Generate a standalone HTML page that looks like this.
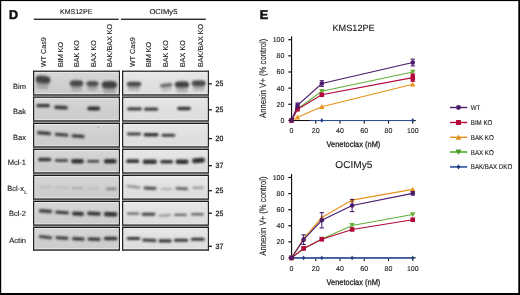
<!DOCTYPE html>
<html><head><meta charset="utf-8">
<style>
html,body{margin:0;padding:0;background:#fff;}
body{width:520px;height:295px;overflow:hidden;font-family:"Liberation Sans", sans-serif;}
svg{display:block;will-change:transform;text-rendering:geometricPrecision;}
text{font-family:"Liberation Sans", sans-serif;stroke:#1a1a1a;stroke-width:0.12px;paint-order:stroke;}
</style></head><body>
<svg width="520" height="295" viewBox="0 0 520 295">
<defs>
<filter id="b1" x="-30%" y="-200%" width="160%" height="500%"><feGaussianBlur stdDeviation="0.85"/></filter>
<filter id="b3" x="-30%" y="-200%" width="160%" height="500%"><feGaussianBlur stdDeviation="0.95"/></filter>
<filter id="b2" x="-30%" y="-200%" width="160%" height="500%"><feGaussianBlur stdDeviation="1.1"/></filter>
<linearGradient id="gL" x1="0" y1="0" x2="0" y2="1">
<stop offset="0" stop-color="#d7d7d7"/><stop offset="0.5" stop-color="#cfcfcf"/><stop offset="1" stop-color="#cccccc"/></linearGradient>
<linearGradient id="gR" x1="0" y1="0" x2="0" y2="1">
<stop offset="0" stop-color="#e8e8e8"/><stop offset="0.5" stop-color="#e0e0e0"/><stop offset="1" stop-color="#dddddd"/></linearGradient>
</defs>
<rect x="0" y="0" width="520" height="295" fill="#fff"/>

<text x="8.9" y="18.7" font-size="12.6" font-weight="bold" fill="#111" style="stroke:#111;stroke-width:0.55px">D</text>
<rect x="33.8" y="18.6" width="84.9" height="1.4" fill="#2a2a2a"/>
<rect x="120.9" y="18.6" width="84.9" height="1.4" fill="#2a2a2a"/>
<text x="76.2" y="14" font-size="7" text-anchor="middle" fill="#1a1a1a">KMS12PE</text>
<text x="149.4" y="14" font-size="7.1" textLength="28" lengthAdjust="spacingAndGlyphs" fill="#1a1a1a">OCIMy5</text>
<text transform="translate(46.1,67) rotate(-90)" font-size="7.2" fill="#1a1a1a">WT Cas9</text>
<text transform="translate(62.9,67) rotate(-90)" font-size="7.2" fill="#1a1a1a">BIM KO</text>
<text transform="translate(79.3,67) rotate(-90)" font-size="7.2" fill="#1a1a1a">BAK KO</text>
<text transform="translate(96.0,67) rotate(-90)" font-size="7.2" fill="#1a1a1a">BAX KO</text>
<text transform="translate(112.3,67) rotate(-90)" font-size="7.2" fill="#1a1a1a">BAK/BAX KO</text>
<text transform="translate(135.0,67) rotate(-90)" font-size="7.2" fill="#1a1a1a">WT Cas9</text>
<text transform="translate(151.2,67) rotate(-90)" font-size="7.2" fill="#1a1a1a">BIM KO</text>
<text transform="translate(167.5,67) rotate(-90)" font-size="7.2" fill="#1a1a1a">BAK KO</text>
<text transform="translate(185.0,67) rotate(-90)" font-size="7.2" fill="#1a1a1a">BAX KO</text>
<text transform="translate(202.9,67) rotate(-90)" font-size="7.2" fill="#1a1a1a">BAK/BAX KO</text>
<rect x="33.0" y="70.7" width="87.00" height="180.1" fill="#9a9a9a"/>
<rect x="122.0" y="70.7" width="87.00" height="180.1" fill="#9a9a9a"/>
<text x="26" y="88.6" font-size="7.5" text-anchor="end" fill="#1a1a1a">Bim</text>
<rect x="33.0" y="70.7" width="87.00" height="25.00" fill="url(#gL)"/>
<rect x="34.7" y="72.3" width="83.80" height="21.40" fill="none" stroke="#ededed" stroke-width="0.9" opacity="0.85"/>
<rect x="122.0" y="70.7" width="87.00" height="25.00" fill="url(#gR)"/>
<rect x="123.7" y="72.3" width="83.80" height="21.40" fill="none" stroke="#ededed" stroke-width="0.9" opacity="0.85"/>
<g transform="rotate(6 43.00 79.50)">
<ellipse cx="43.00" cy="79.90" rx="7.60" ry="4.80" fill="#333" opacity="0.27" filter="url(#b2)"/>
<rect x="35.95" y="76.26" width="14.10" height="6.48" rx="3.00" fill="#2a2a2a" opacity="0.81" filter="url(#b3)"/>
<rect x="36.95" y="79.50" width="12.10" height="9.48" rx="2" fill="#444" opacity="0.27" filter="url(#b2)"/>
</g>
<g>
<ellipse cx="76.50" cy="83.60" rx="6.90" ry="4.00" fill="#333" opacity="0.26" filter="url(#b2)"/>
<rect x="70.15" y="80.68" width="12.70" height="5.04" rx="2.52" fill="#2a2a2a" opacity="0.77" filter="url(#b3)"/>
<rect x="71.15" y="83.20" width="10.70" height="8.04" rx="2" fill="#444" opacity="0.26" filter="url(#b2)"/>
</g>
<g>
<ellipse cx="92.50" cy="84.00" rx="6.40" ry="3.60" fill="#333" opacity="0.24" filter="url(#b2)"/>
<rect x="86.65" y="81.44" width="11.70" height="4.32" rx="2.16" fill="#2a2a2a" opacity="0.72" filter="url(#b3)"/>
<rect x="87.65" y="83.60" width="9.70" height="7.32" rx="2" fill="#444" opacity="0.24" filter="url(#b2)"/>
</g>
<g>
<ellipse cx="109.40" cy="85.00" rx="7.80" ry="4.60" fill="#333" opacity="0.28" filter="url(#b2)"/>
<rect x="102.15" y="81.54" width="14.50" height="6.12" rx="3.00" fill="#2a2a2a" opacity="0.83" filter="url(#b3)"/>
<rect x="103.15" y="84.60" width="12.50" height="9.12" rx="2" fill="#444" opacity="0.28" filter="url(#b2)"/>
</g>
<g>
<ellipse cx="134.00" cy="84.50" rx="7.50" ry="3.40" fill="#333" opacity="0.26" filter="url(#b2)"/>
<rect x="127.05" y="82.12" width="13.90" height="3.96" rx="1.98" fill="#2a2a2a" opacity="0.77" filter="url(#b3)"/>
<rect x="128.05" y="84.10" width="11.90" height="6.96" rx="2" fill="#444" opacity="0.26" filter="url(#b2)"/>
</g>
<g transform="rotate(-7 166.20 85.20)">
<rect x="160.15" y="83.55" width="12.10" height="3.30" rx="1.65" fill="#333" opacity="0.71" filter="url(#b1)"/>
<rect x="161.15" y="85.20" width="10.10" height="6.30" rx="2" fill="#444" opacity="0.19" filter="url(#b2)"/>
</g>
<g>
<ellipse cx="182.00" cy="84.80" rx="7.40" ry="4.20" fill="#333" opacity="0.27" filter="url(#b2)"/>
<rect x="175.15" y="81.70" width="13.70" height="5.40" rx="2.70" fill="#2a2a2a" opacity="0.81" filter="url(#b3)"/>
<rect x="176.15" y="84.40" width="11.70" height="8.40" rx="2" fill="#444" opacity="0.27" filter="url(#b2)"/>
</g>
<g>
<ellipse cx="198.70" cy="83.60" rx="7.30" ry="3.90" fill="#333" opacity="0.26" filter="url(#b2)"/>
<rect x="191.95" y="80.77" width="13.50" height="4.86" rx="2.43" fill="#2a2a2a" opacity="0.77" filter="url(#b3)"/>
<rect x="192.95" y="83.20" width="11.50" height="7.86" rx="2" fill="#444" opacity="0.26" filter="url(#b2)"/>
</g>
<rect x="33.0" y="70.7" width="87.00" height="1.1" fill="#1e1e1e"/>
<rect x="33.0" y="70.7" width="1.25" height="25.00" fill="#222"/>
<rect x="118.80" y="70.7" width="1.2" height="25.00" fill="#222"/>
<rect x="33.0" y="94.20" width="87.00" height="1.5" fill="#3e3e3e"/>
<rect x="122.0" y="70.7" width="87.00" height="1.1" fill="#1e1e1e"/>
<rect x="122.0" y="70.7" width="1.25" height="25.00" fill="#222"/>
<rect x="207.80" y="70.7" width="1.2" height="25.00" fill="#222"/>
<rect x="122.0" y="94.20" width="87.00" height="1.5" fill="#3e3e3e"/>
<rect x="209" y="83.15" width="2.9" height="1.3" fill="#1a1a1a"/>
<text x="215.6" y="86.3" font-size="7.7" fill="#1a1a1a" style="stroke-width:0.3px" transform="translate(215.6,0) scale(0.9,1) translate(-215.6,0)">25</text>
<text x="26" y="114" font-size="7.5" text-anchor="end" fill="#1a1a1a">Bak</text>
<rect x="33.0" y="96.7" width="87.00" height="25.00" fill="url(#gL)"/>
<rect x="34.7" y="98.3" width="83.80" height="21.40" fill="none" stroke="#ededed" stroke-width="0.9" opacity="0.85"/>
<rect x="122.0" y="96.7" width="87.00" height="25.00" fill="url(#gR)"/>
<rect x="123.7" y="98.3" width="83.80" height="21.40" fill="none" stroke="#ededed" stroke-width="0.9" opacity="0.85"/>
<g>
<rect x="36.35" y="104.05" width="13.70" height="3.30" rx="1.65" fill="#333" opacity="0.98" filter="url(#b1)"/>
</g>
<g transform="rotate(3 61.00 107.50)">
<rect x="54.15" y="105.85" width="13.70" height="3.30" rx="1.65" fill="#333" opacity="0.98" filter="url(#b1)"/>
</g>
<g>
<rect x="87.25" y="106.52" width="12.90" height="3.96" rx="1.98" fill="#333" opacity="1.00" filter="url(#b1)"/>
</g>
<g>
<rect x="127.05" y="107.15" width="14.90" height="3.30" rx="1.65" fill="#333" opacity="0.92" filter="url(#b1)"/>
</g>
<g>
<rect x="144.05" y="107.55" width="14.10" height="3.30" rx="1.65" fill="#333" opacity="0.92" filter="url(#b1)"/>
</g>
<g>
<rect x="177.15" y="106.74" width="13.70" height="3.52" rx="1.76" fill="#333" opacity="0.98" filter="url(#b1)"/>
</g>
<rect x="33.0" y="96.7" width="87.00" height="1.1" fill="#1e1e1e"/>
<rect x="33.0" y="96.7" width="1.25" height="25.00" fill="#222"/>
<rect x="118.80" y="96.7" width="1.2" height="25.00" fill="#222"/>
<rect x="33.0" y="120.20" width="87.00" height="1.5" fill="#3e3e3e"/>
<rect x="122.0" y="96.7" width="87.00" height="1.1" fill="#1e1e1e"/>
<rect x="122.0" y="96.7" width="1.25" height="25.00" fill="#222"/>
<rect x="207.80" y="96.7" width="1.2" height="25.00" fill="#222"/>
<rect x="122.0" y="120.20" width="87.00" height="1.5" fill="#3e3e3e"/>
<rect x="209" y="109.15" width="2.9" height="1.3" fill="#1a1a1a"/>
<text x="215.6" y="112.3" font-size="7.7" fill="#1a1a1a" style="stroke-width:0.3px" transform="translate(215.6,0) scale(0.9,1) translate(-215.6,0)">25</text>
<text x="26" y="139.5" font-size="7.5" text-anchor="end" fill="#1a1a1a">Bax</text>
<rect x="33.0" y="122.9" width="87.00" height="24.80" fill="url(#gL)"/>
<rect x="34.7" y="124.5" width="83.80" height="21.20" fill="none" stroke="#ededed" stroke-width="0.9" opacity="0.85"/>
<rect x="122.0" y="122.9" width="87.00" height="24.80" fill="url(#gR)"/>
<rect x="123.7" y="124.5" width="83.80" height="21.20" fill="none" stroke="#ededed" stroke-width="0.9" opacity="0.85"/>
<g transform="rotate(5 44.10 133.10)">
<rect x="36.95" y="131.56" width="14.30" height="3.08" rx="1.54" fill="#333" opacity="0.98" filter="url(#b1)"/>
</g>
<g transform="rotate(5 61.60 134.80)">
<rect x="54.65" y="133.26" width="13.90" height="3.08" rx="1.54" fill="#333" opacity="0.98" filter="url(#b1)"/>
</g>
<g transform="rotate(4 78.10 136.20)">
<rect x="71.55" y="134.55" width="13.10" height="3.30" rx="1.65" fill="#333" opacity="0.98" filter="url(#b1)"/>
</g>
<g>
<rect x="126.85" y="132.57" width="14.10" height="2.86" rx="1.43" fill="#333" opacity="0.92" filter="url(#b1)"/>
</g>
<g>
<rect x="143.55" y="133.04" width="15.10" height="3.52" rx="1.76" fill="#333" opacity="0.98" filter="url(#b1)"/>
</g>
<g>
<rect x="161.55" y="133.66" width="13.70" height="3.08" rx="1.54" fill="#333" opacity="0.92" filter="url(#b1)"/>
</g>
<rect x="33.0" y="122.9" width="87.00" height="1.1" fill="#1e1e1e"/>
<rect x="33.0" y="122.9" width="1.25" height="24.80" fill="#222"/>
<rect x="118.80" y="122.9" width="1.2" height="24.80" fill="#222"/>
<rect x="33.0" y="146.20" width="87.00" height="1.5" fill="#3e3e3e"/>
<rect x="122.0" y="122.9" width="87.00" height="1.1" fill="#1e1e1e"/>
<rect x="122.0" y="122.9" width="1.25" height="24.80" fill="#222"/>
<rect x="207.80" y="122.9" width="1.2" height="24.80" fill="#222"/>
<rect x="122.0" y="146.20" width="87.00" height="1.5" fill="#3e3e3e"/>
<rect x="209" y="137.95" width="2.9" height="1.3" fill="#1a1a1a"/>
<text x="215.6" y="141.1" font-size="7.7" fill="#1a1a1a" style="stroke-width:0.3px" transform="translate(215.6,0) scale(0.9,1) translate(-215.6,0)">20</text>
<text x="26" y="165.3" font-size="7.5" text-anchor="end" fill="#1a1a1a">Mcl-1</text>
<rect x="33.0" y="148.9" width="87.00" height="24.80" fill="url(#gL)"/>
<rect x="34.7" y="150.5" width="83.80" height="21.20" fill="none" stroke="#ededed" stroke-width="0.9" opacity="0.85"/>
<rect x="122.0" y="148.9" width="87.00" height="24.80" fill="url(#gR)"/>
<rect x="123.7" y="150.5" width="83.80" height="21.20" fill="none" stroke="#ededed" stroke-width="0.9" opacity="0.85"/>
<g>
<rect x="38.15" y="157.63" width="13.10" height="3.74" rx="1.87" fill="#333" opacity="0.98" filter="url(#b1)"/>
</g>
<g>
<rect x="54.95" y="159.18" width="13.10" height="2.64" rx="1.32" fill="#333" opacity="0.98" filter="url(#b1)"/>
</g>
<g>
<rect x="71.15" y="159.00" width="12.70" height="4.40" rx="2.20" fill="#333" opacity="1.00" filter="url(#b1)"/>
</g>
<g>
<rect x="87.15" y="159.99" width="12.10" height="2.42" rx="1.21" fill="#333" opacity="0.94" filter="url(#b1)"/>
</g>
<g>
<rect x="103.95" y="159.00" width="12.70" height="4.40" rx="2.20" fill="#333" opacity="1.00" filter="url(#b1)"/>
</g>
<g>
<rect x="126.15" y="159.33" width="13.10" height="3.74" rx="1.87" fill="#333" opacity="0.98" filter="url(#b1)"/>
</g>
<g>
<rect x="142.65" y="159.50" width="14.30" height="4.40" rx="2.20" fill="#333" opacity="0.98" filter="url(#b1)"/>
</g>
<g>
<rect x="160.25" y="159.94" width="12.90" height="3.52" rx="1.76" fill="#333" opacity="0.98" filter="url(#b1)"/>
</g>
<g>
<rect x="175.55" y="159.50" width="13.10" height="4.40" rx="2.20" fill="#333" opacity="1.00" filter="url(#b1)"/>
</g>
<g transform="rotate(-5 198.50 160.50)">
<rect x="191.95" y="158.08" width="13.10" height="4.84" rx="2.42" fill="#333" opacity="1.00" filter="url(#b1)"/>
</g>
<rect x="33.0" y="148.9" width="87.00" height="1.1" fill="#1e1e1e"/>
<rect x="33.0" y="148.9" width="1.25" height="24.80" fill="#222"/>
<rect x="118.80" y="148.9" width="1.2" height="24.80" fill="#222"/>
<rect x="33.0" y="172.20" width="87.00" height="1.5" fill="#3e3e3e"/>
<rect x="122.0" y="148.9" width="87.00" height="1.1" fill="#1e1e1e"/>
<rect x="122.0" y="148.9" width="1.25" height="24.80" fill="#222"/>
<rect x="207.80" y="148.9" width="1.2" height="24.80" fill="#222"/>
<rect x="122.0" y="172.20" width="87.00" height="1.5" fill="#3e3e3e"/>
<rect x="209" y="165.05" width="2.9" height="1.3" fill="#1a1a1a"/>
<text x="215.6" y="168.2" font-size="7.7" fill="#1a1a1a" style="stroke-width:0.3px" transform="translate(215.6,0) scale(0.9,1) translate(-215.6,0)">37</text>
<text x="24" y="190.8" font-size="7.5" text-anchor="end" fill="#1a1a1a">Bcl-x</text>
<text x="24.2" y="193.60000000000002" font-size="5" fill="#1a1a1a">L</text>
<rect x="33.0" y="174.9" width="87.00" height="25.00" fill="url(#gL)"/>
<rect x="34.7" y="176.5" width="83.80" height="21.40" fill="none" stroke="#ededed" stroke-width="0.9" opacity="0.85"/>
<rect x="122.0" y="174.9" width="87.00" height="25.00" fill="url(#gR)"/>
<rect x="123.7" y="176.5" width="83.80" height="21.40" fill="none" stroke="#ededed" stroke-width="0.9" opacity="0.85"/>
<g>
<rect x="38.65" y="185.92" width="12.70" height="1.76" rx="0.88" fill="#333" opacity="0.14" filter="url(#b1)"/>
</g>
<g>
<rect x="55.65" y="186.62" width="12.70" height="1.76" rx="0.88" fill="#333" opacity="0.14" filter="url(#b1)"/>
</g>
<g>
<rect x="71.65" y="187.32" width="11.70" height="1.76" rx="0.88" fill="#333" opacity="0.29" filter="url(#b1)"/>
</g>
<g>
<rect x="87.15" y="187.62" width="11.70" height="1.76" rx="0.88" fill="#333" opacity="0.14" filter="url(#b1)"/>
</g>
<g>
<rect x="106.15" y="187.80" width="10.50" height="2.20" rx="1.10" fill="#333" opacity="0.52" filter="url(#b1)"/>
</g>
<g transform="rotate(7 133.50 186.80)">
<rect x="126.75" y="185.81" width="13.50" height="1.98" rx="0.99" fill="#333" opacity="0.57" filter="url(#b1)"/>
</g>
<g transform="rotate(3 150.00 188.20)">
<rect x="143.55" y="186.77" width="12.90" height="2.86" rx="1.43" fill="#333" opacity="0.86" filter="url(#b1)"/>
</g>
<g>
<rect x="160.85" y="188.02" width="10.90" height="1.76" rx="0.88" fill="#333" opacity="0.34" filter="url(#b1)"/>
</g>
<g transform="rotate(3 181.80 188.60)">
<rect x="175.45" y="187.28" width="12.70" height="2.64" rx="1.32" fill="#333" opacity="0.75" filter="url(#b1)"/>
</g>
<g>
<rect x="192.45" y="186.71" width="11.30" height="1.98" rx="0.99" fill="#333" opacity="0.46" filter="url(#b1)"/>
</g>
<rect x="33.0" y="174.9" width="87.00" height="1.1" fill="#1e1e1e"/>
<rect x="33.0" y="174.9" width="1.25" height="25.00" fill="#222"/>
<rect x="118.80" y="174.9" width="1.2" height="25.00" fill="#222"/>
<rect x="33.0" y="198.40" width="87.00" height="1.5" fill="#3e3e3e"/>
<rect x="122.0" y="174.9" width="87.00" height="1.1" fill="#1e1e1e"/>
<rect x="122.0" y="174.9" width="1.25" height="25.00" fill="#222"/>
<rect x="207.80" y="174.9" width="1.2" height="25.00" fill="#222"/>
<rect x="122.0" y="198.40" width="87.00" height="1.5" fill="#3e3e3e"/>
<rect x="209" y="190.05" width="2.9" height="1.3" fill="#1a1a1a"/>
<text x="215.6" y="193.2" font-size="7.7" fill="#1a1a1a" style="stroke-width:0.3px" transform="translate(215.6,0) scale(0.9,1) translate(-215.6,0)">25</text>
<text x="26" y="215.8" font-size="7.5" text-anchor="end" fill="#1a1a1a">Bcl-2</text>
<rect x="33.0" y="200.9" width="87.00" height="25.00" fill="url(#gL)"/>
<rect x="34.7" y="202.5" width="83.80" height="21.40" fill="none" stroke="#ededed" stroke-width="0.9" opacity="0.85"/>
<rect x="122.0" y="200.9" width="87.00" height="25.00" fill="url(#gR)"/>
<rect x="123.7" y="202.5" width="83.80" height="21.40" fill="none" stroke="#ededed" stroke-width="0.9" opacity="0.85"/>
<g transform="rotate(4 45.50 211.10)">
<rect x="38.75" y="209.56" width="13.50" height="3.08" rx="1.54" fill="#333" opacity="0.98" filter="url(#b1)"/>
</g>
<g transform="rotate(4 62.10 212.50)">
<rect x="55.15" y="210.96" width="13.90" height="3.08" rx="1.54" fill="#333" opacity="0.98" filter="url(#b1)"/>
</g>
<g transform="rotate(3 78.00 213.70)">
<rect x="71.95" y="211.72" width="12.10" height="3.96" rx="1.98" fill="#333" opacity="1.00" filter="url(#b1)"/>
</g>
<g transform="rotate(3 94.00 213.70)">
<rect x="87.15" y="211.83" width="13.70" height="3.74" rx="1.87" fill="#333" opacity="1.00" filter="url(#b1)"/>
</g>
<g transform="rotate(2 110.70 214.20)">
<rect x="103.95" y="212.00" width="13.50" height="4.40" rx="2.20" fill="#333" opacity="1.00" filter="url(#b1)"/>
</g>
<g>
<rect x="126.95" y="212.60" width="12.30" height="2.20" rx="1.10" fill="#333" opacity="0.71" filter="url(#b1)"/>
</g>
<g>
<rect x="141.65" y="212.77" width="13.70" height="2.86" rx="1.43" fill="#333" opacity="0.90" filter="url(#b1)"/>
</g>
<g transform="rotate(-3 164.70 215.40)">
<rect x="158.55" y="214.41" width="12.30" height="1.98" rx="0.99" fill="#333" opacity="0.48" filter="url(#b1)"/>
</g>
<g>
<rect x="174.15" y="213.69" width="12.70" height="2.42" rx="1.21" fill="#333" opacity="0.71" filter="url(#b1)"/>
</g>
<g>
<rect x="191.05" y="212.99" width="12.70" height="2.42" rx="1.21" fill="#333" opacity="0.71" filter="url(#b1)"/>
</g>
<rect x="33.0" y="200.9" width="87.00" height="1.1" fill="#1e1e1e"/>
<rect x="33.0" y="200.9" width="1.25" height="25.00" fill="#222"/>
<rect x="118.80" y="200.9" width="1.2" height="25.00" fill="#222"/>
<rect x="33.0" y="224.40" width="87.00" height="1.5" fill="#3e3e3e"/>
<rect x="122.0" y="200.9" width="87.00" height="1.1" fill="#1e1e1e"/>
<rect x="122.0" y="200.9" width="1.25" height="25.00" fill="#222"/>
<rect x="207.80" y="200.9" width="1.2" height="25.00" fill="#222"/>
<rect x="122.0" y="224.40" width="87.00" height="1.5" fill="#3e3e3e"/>
<rect x="209" y="212.55" width="2.9" height="1.3" fill="#1a1a1a"/>
<text x="215.6" y="215.7" font-size="7.7" fill="#1a1a1a" style="stroke-width:0.3px" transform="translate(215.6,0) scale(0.9,1) translate(-215.6,0)">25</text>
<text x="26" y="242.8" font-size="7.5" text-anchor="end" fill="#1a1a1a">Actin</text>
<rect x="33.0" y="226.9" width="87.00" height="23.90" fill="url(#gL)"/>
<rect x="34.7" y="228.5" width="83.80" height="20.30" fill="none" stroke="#ededed" stroke-width="0.9" opacity="0.85"/>
<rect x="122.0" y="226.9" width="87.00" height="23.90" fill="url(#gR)"/>
<rect x="123.7" y="228.5" width="83.80" height="20.30" fill="none" stroke="#ededed" stroke-width="0.9" opacity="0.85"/>
<g transform="rotate(7 45.50 237.10)">
<rect x="38.75" y="235.67" width="13.50" height="2.86" rx="1.43" fill="#333" opacity="0.98" filter="url(#b1)"/>
</g>
<g transform="rotate(4 62.00 238.00)">
<rect x="55.45" y="236.57" width="13.10" height="2.86" rx="1.43" fill="#333" opacity="0.98" filter="url(#b1)"/>
</g>
<g transform="rotate(3 78.30 238.80)">
<rect x="71.95" y="237.15" width="12.70" height="3.30" rx="1.65" fill="#333" opacity="0.98" filter="url(#b1)"/>
</g>
<g transform="rotate(2 94.10 239.20)">
<rect x="87.55" y="237.55" width="13.10" height="3.30" rx="1.65" fill="#333" opacity="0.98" filter="url(#b1)"/>
</g>
<g>
<rect x="103.95" y="236.85" width="13.50" height="3.30" rx="1.65" fill="#333" opacity="0.98" filter="url(#b1)"/>
</g>
<g>
<rect x="126.75" y="237.07" width="13.50" height="2.86" rx="1.43" fill="#333" opacity="0.98" filter="url(#b1)"/>
</g>
<g transform="rotate(3 149.40 240.20)">
<rect x="142.25" y="238.66" width="14.30" height="3.08" rx="1.54" fill="#333" opacity="0.98" filter="url(#b1)"/>
</g>
<g>
<rect x="158.55" y="239.36" width="13.10" height="3.08" rx="1.54" fill="#333" opacity="0.98" filter="url(#b1)"/>
</g>
<g>
<rect x="173.85" y="238.66" width="14.30" height="3.08" rx="1.54" fill="#333" opacity="0.98" filter="url(#b1)"/>
</g>
<g>
<rect x="190.95" y="237.66" width="13.70" height="3.08" rx="1.54" fill="#333" opacity="0.98" filter="url(#b1)"/>
</g>
<rect x="33.0" y="226.9" width="87.00" height="1.1" fill="#1e1e1e"/>
<rect x="33.0" y="226.9" width="1.25" height="23.90" fill="#222"/>
<rect x="118.80" y="226.9" width="1.2" height="23.90" fill="#222"/>
<rect x="33.0" y="249.30" width="87.00" height="1.5" fill="#3e3e3e"/>
<rect x="122.0" y="226.9" width="87.00" height="1.1" fill="#1e1e1e"/>
<rect x="122.0" y="226.9" width="1.25" height="23.90" fill="#222"/>
<rect x="207.80" y="226.9" width="1.2" height="23.90" fill="#222"/>
<rect x="122.0" y="249.30" width="87.00" height="1.5" fill="#3e3e3e"/>
<rect x="209" y="245.65" width="2.9" height="1.3" fill="#1a1a1a"/>
<text x="215.6" y="248.8" font-size="7.7" fill="#1a1a1a" style="stroke-width:0.3px" transform="translate(215.6,0) scale(0.9,1) translate(-215.6,0)">37</text>
<ellipse cx="87.4" cy="71.6" rx="0.7" ry="0.5" fill="#333" opacity="0.8"/>
<ellipse cx="98.6" cy="127.2" rx="0.5" ry="0.5" fill="#555" opacity="0.6"/>
<text x="259.8" y="18.8" font-size="12.6" font-weight="bold" fill="#111" style="stroke:#111;stroke-width:0.55px">E</text>
<text x="353.6" y="30.6" font-size="9" text-anchor="middle" textLength="42.3" lengthAdjust="spacingAndGlyphs" fill="#1a1a1a">KMS12PE</text>
<text transform="translate(265.9,118.0) rotate(-90) scale(0.825,1)" font-size="9.4" fill="#1a1a1a">Annexin V+ (% control)</text>
<rect x="291.0" y="36.3" width="1.15" height="84.70" fill="#111"/>
<rect x="291.0" y="120.0" width="124.78" height="1.05" fill="#111"/>
<rect x="288.30" y="119.80" width="2.7" height="1.2" fill="#111"/>
<text x="284.40" y="122.90" font-size="7" text-anchor="end" fill="#1a1a1a">0</text>
<rect x="288.30" y="103.66" width="2.7" height="1.2" fill="#111"/>
<text x="284.40" y="106.76" font-size="7" text-anchor="end" fill="#1a1a1a">20</text>
<rect x="288.30" y="87.52" width="2.7" height="1.2" fill="#111"/>
<text x="284.40" y="90.62" font-size="7" text-anchor="end" fill="#1a1a1a">40</text>
<rect x="288.30" y="71.38" width="2.7" height="1.2" fill="#111"/>
<text x="284.40" y="74.48" font-size="7" text-anchor="end" fill="#1a1a1a">60</text>
<rect x="288.30" y="55.24" width="2.7" height="1.2" fill="#111"/>
<text x="284.40" y="58.34" font-size="7" text-anchor="end" fill="#1a1a1a">80</text>
<rect x="288.30" y="39.10" width="2.7" height="1.2" fill="#111"/>
<text x="284.40" y="42.20" font-size="7" text-anchor="end" fill="#1a1a1a">100</text>
<text x="291.50" y="133.3" font-size="7" text-anchor="middle" fill="#1a1a1a">0</text>
<rect x="315.20" y="121.00" width="1.1" height="2.6" fill="#111"/>
<text x="315.75" y="133.3" font-size="7" text-anchor="middle" fill="#1a1a1a">20</text>
<rect x="339.45" y="121.00" width="1.1" height="2.6" fill="#111"/>
<text x="340.00" y="133.3" font-size="7" text-anchor="middle" fill="#1a1a1a">40</text>
<rect x="363.70" y="121.00" width="1.1" height="2.6" fill="#111"/>
<text x="364.25" y="133.3" font-size="7" text-anchor="middle" fill="#1a1a1a">60</text>
<rect x="387.95" y="121.00" width="1.1" height="2.6" fill="#111"/>
<text x="388.50" y="133.3" font-size="7" text-anchor="middle" fill="#1a1a1a">80</text>
<rect x="412.20" y="121.00" width="1.1" height="2.6" fill="#111"/>
<text x="412.75" y="133.3" font-size="7" text-anchor="middle" fill="#1a1a1a">100</text>
<text x="326.5" y="147" font-size="8.2" fill="#1a1a1a" style="stroke-width:0.25px" transform="translate(326.5,0) scale(0.91,1) translate(-326.5,0)">Venetoclax (nM)</text>
<line x1="309.69" y1="120.50" x2="412.75" y2="120.50" stroke="#2f5192" stroke-width="1.2"/>
<path d="M321.81,118.00 L323.41,120.40 L321.81,122.80 L320.21,120.40Z" fill="#1f3f80"/>
<path d="M412.75,118.00 L414.35,120.40 L412.75,122.80 L411.15,120.40Z" fill="#1f3f80"/>
<polyline points="291.50,120.40 297.56,117.25 321.81,106.68 412.75,84.33" fill="none" stroke="#e6921a" stroke-width="1.1"/>
<path d="M291.50,117.70 L294.20,122.70 L288.80,122.70Z" fill="#e6921a"/>
<path d="M297.56,114.55 L300.26,119.55 L294.86,119.55Z" fill="#e6921a"/>
<path d="M321.81,103.98 L324.51,108.98 L319.11,108.98Z" fill="#e6921a"/>
<path d="M412.75,81.63 L415.45,86.62 L410.05,86.62Z" fill="#e6921a"/>
<polyline points="291.50,120.40 297.56,108.86 321.81,91.19 412.75,71.98" fill="none" stroke="#66b03a" stroke-width="1.1"/>
<path d="M288.80,118.11 L294.20,118.11 L291.50,123.10Z" fill="#66b03a"/>
<path d="M294.86,106.56 L300.26,106.56 L297.56,111.56Z" fill="#66b03a"/>
<path d="M319.11,88.89 L324.51,88.89 L321.81,93.89Z" fill="#66b03a"/>
<path d="M410.05,69.69 L415.45,69.69 L412.75,74.68Z" fill="#66b03a"/>
<polyline points="291.50,120.40 297.56,109.26 321.81,94.74 412.75,77.63" fill="none" stroke="#b3073a" stroke-width="1.1"/>
<rect x="289.20" y="118.10" width="4.60" height="4.60" fill="#b3073a"/>
<rect x="295.26" y="106.96" width="4.60" height="4.60" fill="#b3073a"/>
<rect x="319.51" y="92.44" width="4.60" height="4.60" fill="#b3073a"/>
<line x1="412.75" y1="74.00" x2="412.75" y2="81.26" stroke="#b3073a" stroke-width="3.5"/>
<line x1="410.35" y1="74.00" x2="415.15" y2="74.00" stroke="#b3073a" stroke-width="1.1"/>
<line x1="410.35" y1="81.26" x2="415.15" y2="81.26" stroke="#b3073a" stroke-width="1.1"/>
<rect x="410.45" y="75.33" width="4.60" height="4.60" fill="#b3073a"/>
<polyline points="291.50,120.40 297.56,105.39 321.81,83.52 412.75,62.54" fill="none" stroke="#4b1b6c" stroke-width="1.1"/>
<circle cx="291.50" cy="120.40" r="2.30" fill="#4b1b6c"/>
<line x1="297.56" y1="102.97" x2="297.56" y2="107.81" stroke="#4b1b6c" stroke-width="1.0"/>
<line x1="295.36" y1="102.97" x2="299.76" y2="102.97" stroke="#4b1b6c" stroke-width="1.1"/>
<line x1="295.36" y1="107.81" x2="299.76" y2="107.81" stroke="#4b1b6c" stroke-width="1.1"/>
<circle cx="297.56" cy="105.39" r="2.30" fill="#4b1b6c"/>
<line x1="321.81" y1="80.70" x2="321.81" y2="86.34" stroke="#4b1b6c" stroke-width="1.0"/>
<line x1="319.61" y1="80.70" x2="324.01" y2="80.70" stroke="#4b1b6c" stroke-width="1.1"/>
<line x1="319.61" y1="86.34" x2="324.01" y2="86.34" stroke="#4b1b6c" stroke-width="1.1"/>
<circle cx="321.81" cy="83.52" r="2.30" fill="#4b1b6c"/>
<line x1="412.75" y1="59.15" x2="412.75" y2="65.93" stroke="#4b1b6c" stroke-width="1.0"/>
<line x1="410.55" y1="59.15" x2="414.95" y2="59.15" stroke="#4b1b6c" stroke-width="1.1"/>
<line x1="410.55" y1="65.93" x2="414.95" y2="65.93" stroke="#4b1b6c" stroke-width="1.1"/>
<circle cx="412.75" cy="62.54" r="2.30" fill="#4b1b6c"/>
<text x="353.8" y="168.4" font-size="10" text-anchor="middle" textLength="37" lengthAdjust="spacingAndGlyphs" fill="#1a1a1a">OCIMy5</text>
<text transform="translate(265.9,255.7) rotate(-90) scale(0.825,1)" font-size="9.4" fill="#1a1a1a">Annexin V+ (% control)</text>
<rect x="291.0" y="173.9" width="1.15" height="84.40" fill="#111"/>
<rect x="291.0" y="257.3" width="124.78" height="1.05" fill="#111"/>
<rect x="288.30" y="257.30" width="2.7" height="1.2" fill="#111"/>
<text x="284.40" y="260.40" font-size="7" text-anchor="end" fill="#1a1a1a">0</text>
<rect x="288.30" y="241.22" width="2.7" height="1.2" fill="#111"/>
<text x="284.40" y="244.32" font-size="7" text-anchor="end" fill="#1a1a1a">20</text>
<rect x="288.30" y="225.14" width="2.7" height="1.2" fill="#111"/>
<text x="284.40" y="228.24" font-size="7" text-anchor="end" fill="#1a1a1a">40</text>
<rect x="288.30" y="209.06" width="2.7" height="1.2" fill="#111"/>
<text x="284.40" y="212.16" font-size="7" text-anchor="end" fill="#1a1a1a">60</text>
<rect x="288.30" y="192.98" width="2.7" height="1.2" fill="#111"/>
<text x="284.40" y="196.08" font-size="7" text-anchor="end" fill="#1a1a1a">80</text>
<rect x="288.30" y="176.90" width="2.7" height="1.2" fill="#111"/>
<text x="284.40" y="180.00" font-size="7" text-anchor="end" fill="#1a1a1a">100</text>
<text x="291.50" y="271" font-size="7" text-anchor="middle" fill="#1a1a1a">0</text>
<rect x="315.20" y="258.30" width="1.1" height="2.6" fill="#111"/>
<text x="315.75" y="271" font-size="7" text-anchor="middle" fill="#1a1a1a">20</text>
<rect x="339.45" y="258.30" width="1.1" height="2.6" fill="#111"/>
<text x="340.00" y="271" font-size="7" text-anchor="middle" fill="#1a1a1a">40</text>
<rect x="363.70" y="258.30" width="1.1" height="2.6" fill="#111"/>
<text x="364.25" y="271" font-size="7" text-anchor="middle" fill="#1a1a1a">60</text>
<rect x="387.95" y="258.30" width="1.1" height="2.6" fill="#111"/>
<text x="388.50" y="271" font-size="7" text-anchor="middle" fill="#1a1a1a">80</text>
<rect x="412.20" y="258.30" width="1.1" height="2.6" fill="#111"/>
<text x="412.75" y="271" font-size="7" text-anchor="middle" fill="#1a1a1a">100</text>
<text x="326.5" y="284.5" font-size="8.2" fill="#1a1a1a" style="stroke-width:0.25px" transform="translate(326.5,0) scale(0.91,1) translate(-326.5,0)">Venetoclax (nM)</text>
<line x1="291.50" y1="257.80" x2="412.75" y2="257.80" stroke="#3f5f9f" stroke-width="1.7"/>
<path d="M303.62,255.50 L305.23,257.90 L303.62,260.30 L302.02,257.90Z" fill="#1f3f80"/>
<path d="M321.81,255.50 L323.41,257.90 L321.81,260.30 L320.21,257.90Z" fill="#1f3f80"/>
<path d="M352.12,255.50 L353.73,257.90 L352.12,260.30 L350.52,257.90Z" fill="#1f3f80"/>
<path d="M412.75,255.50 L414.35,257.90 L412.75,260.30 L411.15,257.90Z" fill="#1f3f80"/>
<polyline points="291.50,257.90 303.62,238.60 321.81,217.54 352.12,200.09 412.75,189.40" fill="none" stroke="#e6921a" stroke-width="1.1"/>
<path d="M291.50,255.20 L294.20,260.19 L288.80,260.19Z" fill="#e6921a"/>
<path d="M303.62,235.90 L306.32,240.90 L300.93,240.90Z" fill="#e6921a"/>
<path d="M321.81,214.84 L324.51,219.83 L319.11,219.83Z" fill="#e6921a"/>
<path d="M352.12,197.39 L354.82,202.39 L349.43,202.39Z" fill="#e6921a"/>
<path d="M412.75,186.70 L415.45,191.69 L410.05,191.69Z" fill="#e6921a"/>
<polyline points="291.50,257.90 303.62,248.81 321.81,238.93 352.12,225.42 412.75,214.56" fill="none" stroke="#66b03a" stroke-width="1.1"/>
<path d="M288.80,255.60 L294.20,255.60 L291.50,260.60Z" fill="#66b03a"/>
<path d="M300.93,246.52 L306.32,246.52 L303.62,251.51Z" fill="#66b03a"/>
<path d="M319.11,236.63 L324.51,236.63 L321.81,241.63Z" fill="#66b03a"/>
<path d="M349.43,223.12 L354.82,223.12 L352.12,228.12Z" fill="#66b03a"/>
<path d="M410.05,212.27 L415.45,212.27 L412.75,217.26Z" fill="#66b03a"/>
<polyline points="291.50,257.90 303.62,248.41 321.81,239.25 352.12,229.44 412.75,219.71" fill="none" stroke="#b3073a" stroke-width="1.1"/>
<rect x="289.20" y="255.60" width="4.60" height="4.60" fill="#b3073a"/>
<rect x="301.32" y="246.11" width="4.60" height="4.60" fill="#b3073a"/>
<rect x="319.51" y="236.95" width="4.60" height="4.60" fill="#b3073a"/>
<rect x="349.82" y="227.14" width="4.60" height="4.60" fill="#b3073a"/>
<rect x="410.45" y="217.41" width="4.60" height="4.60" fill="#b3073a"/>
<polyline points="291.50,257.90 303.62,239.65 321.81,220.27 352.12,205.56 412.75,193.34" fill="none" stroke="#4b1b6c" stroke-width="1.1"/>
<circle cx="291.50" cy="257.90" r="2.30" fill="#4b1b6c"/>
<line x1="303.62" y1="234.83" x2="303.62" y2="244.47" stroke="#4b1b6c" stroke-width="1.0"/>
<line x1="301.43" y1="234.83" x2="305.82" y2="234.83" stroke="#4b1b6c" stroke-width="1.1"/>
<line x1="301.43" y1="244.47" x2="305.82" y2="244.47" stroke="#4b1b6c" stroke-width="1.1"/>
<circle cx="303.62" cy="239.65" r="2.30" fill="#4b1b6c"/>
<line x1="321.81" y1="212.63" x2="321.81" y2="227.91" stroke="#4b1b6c" stroke-width="1.0"/>
<line x1="319.61" y1="212.63" x2="324.01" y2="212.63" stroke="#4b1b6c" stroke-width="1.1"/>
<line x1="319.61" y1="227.91" x2="324.01" y2="227.91" stroke="#4b1b6c" stroke-width="1.1"/>
<circle cx="321.81" cy="220.27" r="2.30" fill="#4b1b6c"/>
<line x1="352.12" y1="199.53" x2="352.12" y2="211.59" stroke="#4b1b6c" stroke-width="1.0"/>
<line x1="349.93" y1="199.53" x2="354.32" y2="199.53" stroke="#4b1b6c" stroke-width="1.1"/>
<line x1="349.93" y1="211.59" x2="354.32" y2="211.59" stroke="#4b1b6c" stroke-width="1.1"/>
<circle cx="352.12" cy="205.56" r="2.30" fill="#4b1b6c"/>
<line x1="412.75" y1="191.73" x2="412.75" y2="194.95" stroke="#4b1b6c" stroke-width="1.0"/>
<line x1="410.55" y1="191.73" x2="414.95" y2="191.73" stroke="#4b1b6c" stroke-width="1.1"/>
<line x1="410.55" y1="194.95" x2="414.95" y2="194.95" stroke="#4b1b6c" stroke-width="1.1"/>
<circle cx="412.75" cy="193.34" r="2.30" fill="#4b1b6c"/>
<line x1="450" y1="107.5" x2="467.2" y2="107.5" stroke="#4b1b6c" stroke-width="1.4"/>
<circle cx="458.50" cy="107.50" r="2.46" fill="#4b1b6c"/>
<text x="470.8" y="110.0" font-size="7" fill="#1a1a1a" transform="translate(470.8,0) scale(0.88,1) translate(-470.8,0)">WT</text>
<line x1="450" y1="122.5" x2="467.2" y2="122.5" stroke="#b3073a" stroke-width="1.4"/>
<rect x="456.04" y="120.04" width="4.92" height="4.92" fill="#b3073a"/>
<text x="470.8" y="125.0" font-size="7" fill="#1a1a1a" transform="translate(470.8,0) scale(0.88,1) translate(-470.8,0)">BIM KO</text>
<line x1="450" y1="137.3" x2="467.2" y2="137.3" stroke="#e6921a" stroke-width="1.4"/>
<path d="M458.50,134.41 L461.39,139.76 L455.61,139.76Z" fill="#e6921a"/>
<text x="470.8" y="139.8" font-size="7" fill="#1a1a1a" transform="translate(470.8,0) scale(0.88,1) translate(-470.8,0)">BAK KO</text>
<line x1="450" y1="152" x2="467.2" y2="152" stroke="#6cb846" stroke-width="1.9"/>
<path d="M455.61,149.54 L461.39,149.54 L458.50,154.89Z" fill="#4a9a28"/>
<text x="470.8" y="154.5" font-size="7" fill="#1a1a1a" transform="translate(470.8,0) scale(0.88,1) translate(-470.8,0)">BAX KO</text>
<line x1="450" y1="166.9" x2="467.2" y2="166.9" stroke="#4a67a6" stroke-width="1.9"/>
<path d="M458.5,164.30 L460.3,166.90 L458.5,169.50 L456.7,166.90Z" fill="#173a7c"/>
<text x="470.8" y="169.4" font-size="7" fill="#1a1a1a" transform="translate(470.8,0) scale(0.88,1) translate(-470.8,0)">BAK/BAX DKO</text>
<rect x="0" y="0" width="520" height="1.1" fill="#000"/>
<rect x="0" y="0" width="1.2" height="295" fill="#000"/>
<rect x="518.3" y="0" width="1.7" height="295" fill="#000"/>
<rect x="0" y="293" width="520" height="2" fill="#000"/>
</svg></body></html>
